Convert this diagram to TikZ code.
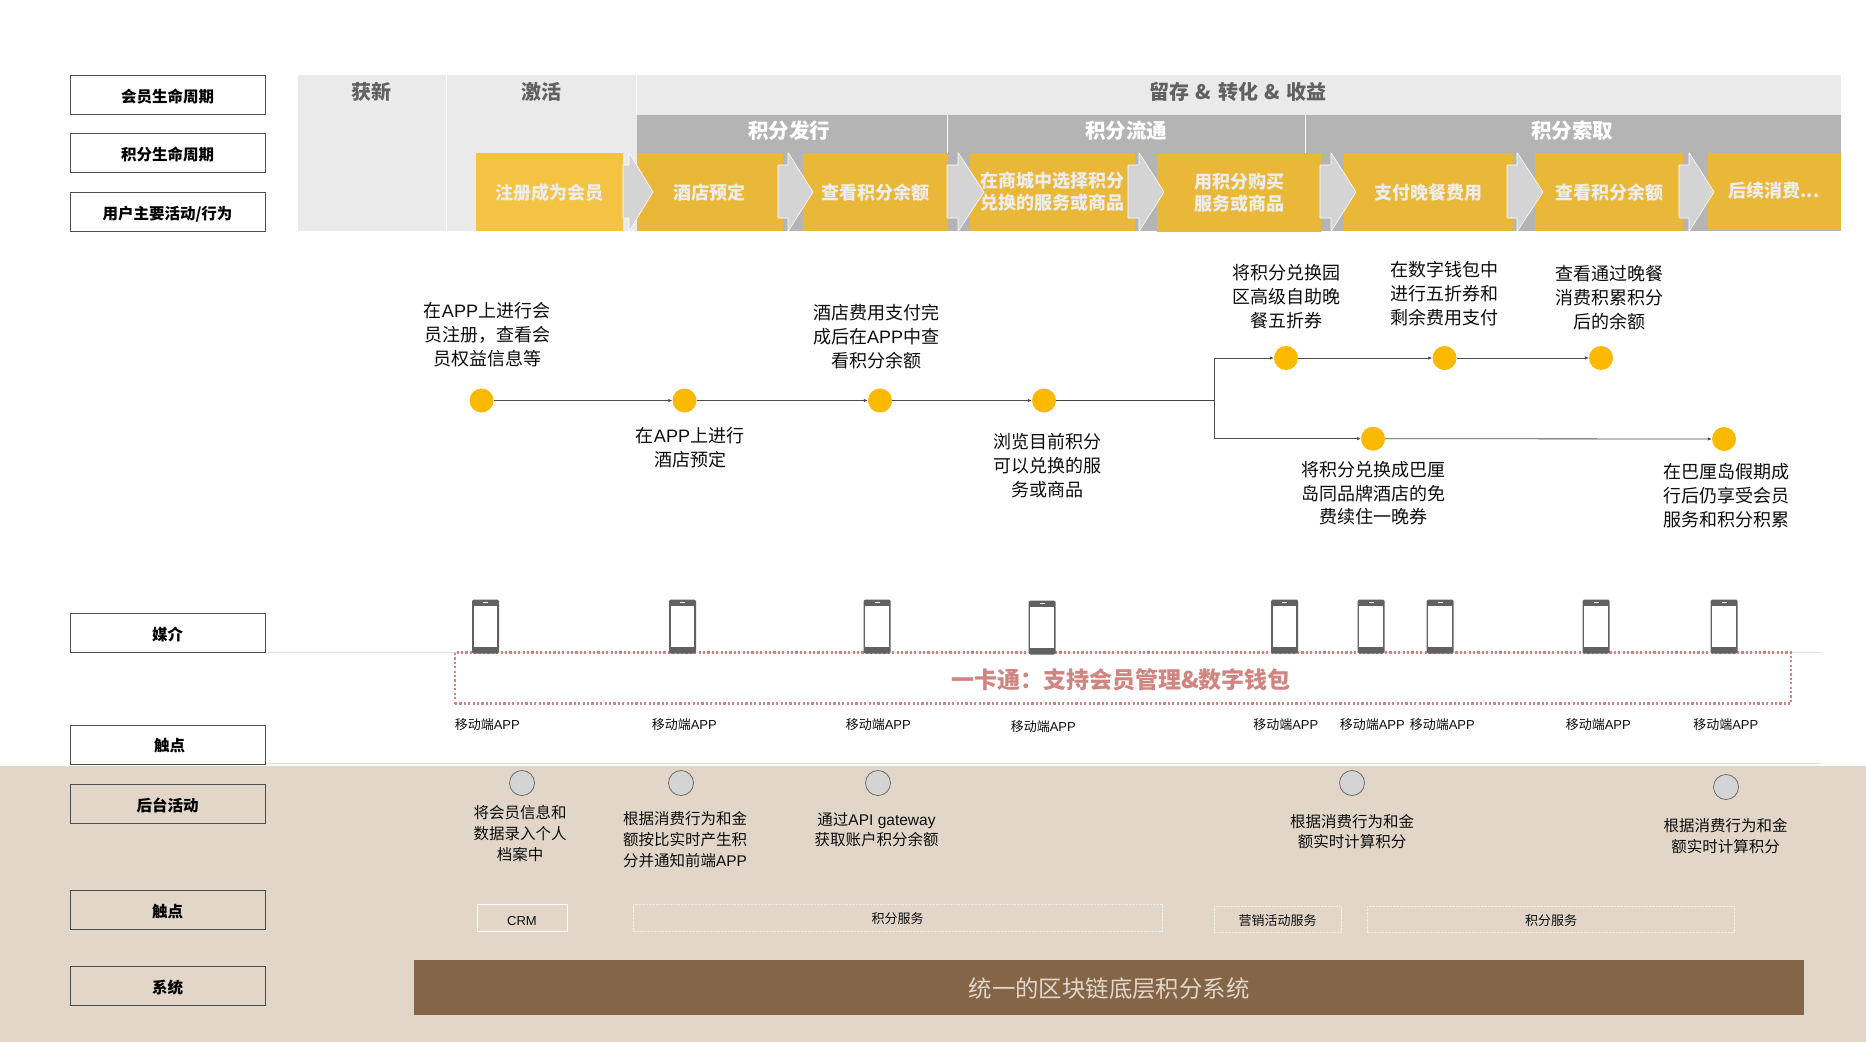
\documentclass[tikz,border=0pt]{standalone}
\usepackage{fontspec}
\setmainfont{Noto Sans CJK SC}
\newfontfamily\lat{Liberation Sans}
\usetikzlibrary{arrows.meta}
\definecolor{tanbg}{HTML}{E1D6C8}
\definecolor{bargrey}{HTML}{B4B4B4}
\definecolor{panel}{HTML}{EAEAEA}
\definecolor{amber}{HTML}{EAB839}
\definecolor{amberl}{HTML}{F5C342}
\definecolor{dotc}{HTML}{FBB900}
\definecolor{redd}{HTML}{D08581}
\definecolor{brownbar}{HTML}{846548}
\tikzset{
 lbox/.style={draw=black!70,line width=0.7pt,fill=white,minimum width=195pt,minimum height=39pt,inner sep=0pt,font=\fontsize{15.5}{15.5}\selectfont\bfseries,text depth=0pt,text height=14pt},
 phead/.style={text=black!62,font=\fontsize{20}{20}\selectfont\bfseries,inner sep=0pt},
 bhead/.style={text=white,font=\fontsize{20.5}{20.5}\selectfont\bfseries,inner sep=0pt},
 otext/.style={text=white!93!black,align=center,inner sep=0pt,yshift=-0.8pt,font=\fontsize{18}{22.5}\selectfont\bfseries},
 tl/.style={align=center,inner sep=0pt,text=black!95,yshift=-0.8pt,font=\fontsize{18}{23.7}\selectfont},
 dotn/.style={circle,fill=dotc,minimum size=24pt,inner sep=0pt},
 flow/.style={draw=black!70,line width=0.8pt,-{Latex[length=4pt,width=3.5pt]}},
 mob/.style={inner sep=0pt,text=black!95,yshift=-0.8pt,font=\fontsize{13}{13}\selectfont},
 act/.style={align=center,inner sep=0pt,text=black!95,yshift=-1pt,font=\fontsize{15.5}{20.6}\selectfont},
 circ/.style={circle,draw=black!62,line width=0.7pt,fill=black!17,minimum size=25pt,inner sep=0pt},
 svc/.style={draw=white,line width=0.6pt,inner sep=0pt,text=black!95,font=\fontsize{13}{13}\selectfont},
 svcd/.style={svc,draw=white!60!tanbg,line width=0.5pt,dash pattern=on 2.5pt off 1pt},
 hair/.style={draw=black!12,line width=0.7pt},
 chev/.style={fill=black!17,draw=white,line width=0.6pt,rounded corners=0.5pt},
 phonebody/.style={fill=black!62,rounded corners=1.5pt,minimum width=27pt,minimum height=54pt,inner sep=0pt},
 phonescreen/.style={fill=white,minimum width=23.5pt,minimum height=41pt,inner sep=0pt},
 phonespk/.style={fill=white,minimum width=5pt,minimum height=0.8pt,inner sep=0pt}
}
\newcommand\phoneat[3]{\node[phonebody] (#1) at (#2,#3) {};\node[phonescreen] at (#2,#3+0.3) {};\node[phonespk] at (#2,#3-23.7) {};}
\newcommand\chevat[3]{\path[chev] (#1,165) -- (#2,165) -- (#2,152.5) -- (#3,192) -- (#2,231.5) -- (#2,218) -- (#1,218) -- cycle;}
\newcommand\orect[5][amber]{\fill[#1] (#2,#3) rectangle (#4,#5);}
\begin{document}
\begin{tikzpicture}[x=1pt,y=-1pt]
\useasboundingbox (0,0) rectangle (1866,1042);
\fill[white] (0,0) rectangle (1866,1042);
% tan background
\fill[tanbg] (0,766) rectangle (1866,1042);
\draw[hair] (265,652) -- (1822,652);
\draw[hair] (265,763) -- (1822,763);
% header panels
\fill[panel] (298,75) rectangle (1841,231);
\draw[white,line width=0.7pt] (446.5,75) -- (446.5,231) (636.5,75) -- (636.5,115);
\fill[bargrey] (637,115) rectangle (1841,231);
\draw[white,line width=0.7pt] (947.5,115) -- (947.5,231) (1305,115) -- (1305,153);
% orange boxes
\orect[amberl]{476}{153}{623}{231}
\orect{637}{153}{783}{231}
\orect{803}{153}{948}{231}
\orect{970}{153}{1135}{231}
\orect{1157}{154}{1321}{232}
\orect{1344}{153}{1513}{231}
\orect{1535}{153}{1683}{231}
\orect{1708}{153}{1841}{230}
\chevat{623}{629}{653}
\chevat{778}{788}{813}
\chevat{947}{958}{984}
\chevat{1128}{1139}{1164}
\chevat{1320}{1331}{1356}
\chevat{1507}{1517}{1543}
\chevat{1679}{1689}{1714}
% left labels
\node[lbox] (l1) at (167.5,95) {会员生命周期};
\node[lbox] (l2) at (167.5,153) {积分生命周期};
\node[lbox] (l3) at (167.5,212) {用户主要活动/行为};
\node[lbox] (l4) at (167.5,633) {媒介};
\node[lbox] (l5) at (167.5,744.5) {\hspace{4pt}触点};
\node[lbox,fill=tanbg] (l6) at (167.5,804) {后台活动};
\node[lbox,fill=tanbg] (l7) at (167.5,910) {触点};
\node[lbox,fill=tanbg] (l8) at (167.5,986) {系统};
% heads
\node[phead] (h1) at (371.5,92) {获新};
\node[phead] (h2) at (541,92) {激活};
\node[phead] (h3) at (1238,92) {留存\hspace{2pt} \&\hspace{2pt} 转化\hspace{2pt} \&\hspace{2pt} 收益};
\node[bhead] (b1) at (789,131) {积分发行};
\node[bhead] (b2) at (1126,131) {积分流通};
\node[bhead] (b3) at (1572,131) {积分索取};
\node[otext] (o1) at (549,192) {注册成为会员};
\node[otext] (o2) at (709,192) {酒店预定};
\node[otext] (o3) at (875,192) {查看积分余额};
\node[otext] (o4) at (1052,191) {在商城中选择积分\\兑换的服务或商品};
\node[otext] (o5) at (1239,192) {用积分购买\\服务或商品};
\node[otext] (o6) at (1428,192) {支付晚餐费用};
\node[otext] (o7) at (1609,192) {查看积分余额};
\node[otext] (o8) at (1774,190) {后续消费...};
% timeline
\node[dotn] (d1) at (481.5,400.5) {};
\node[dotn] (d2) at (684.5,400.5) {};
\node[dotn] (d3) at (880,400.5) {};
\node[dotn] (d4) at (1044,400.5) {};
\node[dotn] (u1) at (1286,358) {};
\node[dotn] (u2) at (1444.5,358) {};
\node[dotn] (u3) at (1601,358) {};
\node[dotn] (v1) at (1373,438.7) {};
\node[dotn] (v2) at (1724,439) {};
\coordinate (br) at (1214,400.5);
\draw[flow] (d1) -- (d2);
\draw[flow] (d2) -- (d3);
\draw[flow] (d3) -- (d4);
\draw[draw=black!75,line width=0.8pt] (d4) -- (br);
\draw[flow] (br) |- (u1);
\draw[flow] (br) |- (v1);
\draw[flow] (u1) -- (u2);
\draw[flow] (u2) -- (u3);
\draw[flow] (v1) -- (v2);
\node[tl] (t1) at (487,334) {在{\lat APP}上进行会\\员注册，查看会\\员权益信息等};
\node[tl] (t2) at (690,447) {在{\lat APP}上进行\\酒店预定};
\node[tl] (t3) at (876,336) {酒店费用支付完\\成后在{\lat APP}中查\\看积分余额};
\node[tl] (t4) at (1047,465) {浏览目前积分\\可以兑换的服\\务或商品};
\node[tl] (t5) at (1286,296) {将积分兑换园\\区高级自助晚\\餐五折券};
\node[tl] (t6) at (1444,293) {在数字钱包中\\进行五折券和\\剩余费用支付};
\node[tl] (t7) at (1609,297) {查看通过晚餐\\消费积累积分\\后的余额};
\node[tl] (t8) at (1373,492.5) {将积分兑换成巴厘\\岛同品牌酒店的免\\费续住一晚券};
\node[tl] (t9) at (1726,495) {在巴厘岛假期成\\行后仍享受会员\\服务和积分积累};
% dotted box
\node[draw=redd,line width=2.2pt,dash pattern=on 2.2pt off 2.2pt,minimum width=1336pt,minimum height=51pt,inner sep=0pt] (card) at (1123,678) {};
\node[text=redd,inner sep=0pt,yshift=-0.8pt,font=\fontsize{23}{23}\selectfont\bfseries] (cardt) at (1121,679) {一卡通：支持会员管理\&数字钱包};
% phones
\phoneat{p1}{485.5}{626.5}
\phoneat{p2}{682.5}{626.5}
\phoneat{p3}{877}{626.5}
\phoneat{p4}{1042}{627.5}
\phoneat{p5}{1284.6}{626.5}
\phoneat{p6}{1371}{626.5}
\phoneat{p7}{1440}{626.5}
\phoneat{p8}{1596}{626.5}
\phoneat{p9}{1724}{626.5}
% mobile labels
\foreach \n/\x/\y in {1/487.3/724,2/684.3/724,3/878.3/724,4/1043.3/726,5/1285.8/724,6/1372.3/724,7/1442.3/724,8/1598.3/724,9/1725.8/724}
  \node[mob] (m\n) at (\x,\y) {移动端{\lat APP}};
% circles
\node[circ] (c1) at (522,783) {};
\node[circ] (c2) at (681,783) {};
\node[circ] (c3) at (878,783) {};
\node[circ] (c4) at (1352,783) {};
\node[circ] (c5) at (1726,787) {};
\node[act] (a1) at (520,832.5) {将会员信息和\\数据录入个人\\档案中};
\node[act] (a2) at (685,838.5) {根据消费行为和金\\额按比实时产生积\\分并通知前端{\lat APP}};
\node[act] (a3) at (876.5,828.5) {通过{\lat API gateway}\\获取账户积分余额};
\node[act] (a4) at (1352,830.5) {根据消费行为和金\\额实时计算积分};
\node[act] (a5) at (1725.5,835) {根据消费行为和金\\额实时计算积分};
% services
\node[svc,minimum width=90.5pt,minimum height=27pt] (s1) at (522.2,917.5) {};
\node[mob] (s1t) at (522,920) {\lat CRM};
\node[svcd,minimum width=529.5pt,minimum height=27pt] (s2) at (897.8,917.5) {};
\node[mob] (s2t) at (897.5,918) {积分服务};
\node[svcd,minimum width=127.4pt,minimum height=26.3pt] (s3) at (1277.7,919.2) {};
\node[mob] (s3t) at (1277.5,919.5) {营销活动服务};
\node[svcd,minimum width=367pt,minimum height=26.3pt] (s4) at (1550.5,919.2) {};
\node[mob] (s4t) at (1551,919.5) {积分服务};
% bar
\node[fill=brownbar,minimum width=1390pt,minimum height=55pt,inner sep=0pt] (bar) at (1109,987.5) {};
\node[inner sep=0pt,text=tanbg,font=\fontsize{23.4}{23.4}\selectfont] (bart) at (1109,988.5) {统一的区块链底层积分系统};
\end{tikzpicture}
\end{document}
